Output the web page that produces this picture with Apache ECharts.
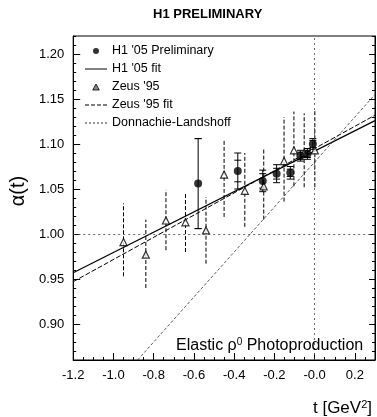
<!DOCTYPE html>
<html>
<head>
<meta charset="utf-8">
<script src="https://cdn.jsdelivr.net/npm/echarts@6/dist/echarts.min.js"></script>
<style>
html,body{margin:0;padding:0;background:#fff;}
#chart{width:377px;height:417px;}
</style>
</head>
<body>
<div id="chart"></div>
<script>
// ---- data ----
const xTickValues = [-1.2, -1.0, -0.8, -0.6, -0.4, -0.2, 0, 0.2];
const yTickValues = [0.90, 0.95, 1.00, 1.05, 1.10, 1.15, 1.20];

const h1T       = [-0.579, -0.382, -0.258, -0.189, -0.121, -0.071, -0.036, -0.009];
const h1Alpha   = [1.056, 1.070, 1.059, 1.067, 1.068, 1.087, 1.089, 1.100];
const h1ErrTot  = [0.050, 0.020, 0.012, 0.010, 0.007, 0.006, 0.006, 0.006];
const h1ErrStat = [0.050, 0.012, 0.008, 0.006, 0.004, 0.004, 0.004, 0.004];

const zeusT     = [-0.950, -0.839, -0.739, -0.642, -0.540, -0.450, -0.347, -0.253, -0.152, -0.103, -0.052, 0.001];
const zeusAlpha = [0.991, 0.977, 1.015, 1.013, 1.004, 1.066, 1.048, 1.053, 1.081, 1.093, 1.090, 1.093];
const zeusLow   = [0.953, 0.940, 0.982, 0.980, 0.967, 1.019, 1.008, 1.016, 1.036, 1.053, 1.052, 1.052];
const zeusHigh  = [1.034, 1.016, 1.049, 1.045, 1.041, 1.104, 1.090, 1.094, 1.130, 1.136, 1.134, 1.137];

const fitT         = [-1.2, 0.3];
const h1FitAlpha   = [0.957, 1.126];
const zeusFitAlpha = [0.947, 1.132];
const dlT          = [-0.88, 0.3];
const dlAlpha      = [0.86, 1.155];

const refAlpha = 1.0;
const refT = 0;

// ---- build ----
const zip = (a, b) => a.map((v, i) => [v, b[i]]);
const h1ErrData = h1T.map((t, i) => [t, h1Alpha[i] - h1ErrTot[i], h1Alpha[i] + h1ErrTot[i],
                                      h1Alpha[i] - h1ErrStat[i], h1Alpha[i] + h1ErrStat[i]]);
const zeusErrData = zeusT.map((t, i) => [t, zeusLow[i], zeusHigh[i]]);

function errRenderer(dashed, withCaps) {
  return function (params, api) {
    const t = api.value(0);
    const a = api.coord([t, api.value(1)]);
    const b = api.coord([t, api.value(2)]);
    const children = [{
      type: 'line',
      shape: {x1: a[0], y1: a[1], x2: b[0], y2: b[1]},
      style: {stroke: '#000', lineWidth: 1, lineDash: dashed ? [4, 2] : null}
    }];
    if (withCaps) {
      const vals = [api.value(1), api.value(2), api.value(3), api.value(4)];
      vals.forEach(v => {
        const p = api.coord([t, v]);
        children.push({
          type: 'line',
          shape: {x1: p[0] - 3.5, y1: p[1], x2: p[0] + 3.5, y2: p[1]},
          style: {stroke: '#000', lineWidth: 1}
        });
      });
    }
    return {type: 'group', children};
  };
}

const font = 'Liberation Sans, Arial, Helvetica, sans-serif';
const chart = echarts.init(document.getElementById('chart'), null, {renderer: 'canvas'});

const axisBase = {
  type: 'value',
  splitLine: {show: false},
  axisLine: {show: true, onZero: false, lineStyle: {color: '#000', width: 1}}
};
const hiddenLine = {show: false, onZero: false};

const iconSolid    = 'path://M0,0h22v1h-22z';
const iconDashed   = 'path://M0,0h4v1h-4zM6,0h4v1h-4zM12,0h4v1h-4zM18,0h4v1h-4z';
const iconDotted   = 'path://M0,0h2v1h-2zM4,0h2v1h-2zM8,0h2v1h-2zM12,0h2v1h-2zM16,0h2v1h-2zM20,0h2v1h-2z';
const iconTriangle = 'path://M3,0L6,5.5L0,5.5Z';

chart.setOption({
  animation: false,
  backgroundColor: '#fff',
  textStyle: {fontFamily: font, color: '#000'},
  title: {
    text: 'H1 PRELIMINARY', left: 148, top: 3,
    textStyle: {fontSize: 13, fontWeight: 'bold', color: '#000', fontFamily: font}
  },
  grid: {left: 66, right: 2, top: 36, bottom: 57, show: true, borderColor: '#000', borderWidth: 1},
  legend: {
    orient: 'vertical', left: 80, top: 39,
    itemWidth: 22, itemHeight: 6, itemGap: 4,
    symbolKeepAspect: true,
    textStyle: {fontSize: 12.5, lineHeight: 14, color: '#000', fontFamily: font},
    data: [
      {name: "H1 '05 Preliminary", icon: 'circle'},
      {name: "H1 '05 fit", icon: iconSolid, itemStyle: {color: '#000'}},
      {name: "Zeus '95", icon: iconTriangle, itemStyle: {color: '#666', borderColor: '#000', borderWidth: 1}},
      {name: "Zeus '95 fit", icon: iconDashed, itemStyle: {color: '#000'}},
      {name: 'Donnachie-Landshoff', icon: iconDotted, itemStyle: {color: '#333'}}
    ]
  },
  xAxis: [
    Object.assign({}, axisBase, {
      min: -1.2, max: 0.3, position: 'bottom',
      axisTick: {show: true, inside: true, length: 7, customValues: xTickValues, lineStyle: {color: '#000'}},
      axisLabel: {
        customValues: xTickValues, fontSize: 13, color: '#000', margin: 9, fontFamily: font,
        formatter: v => (Math.abs(v) < 1e-9 ? '-0.0' : v.toFixed(1))
      },
      name: 't [GeV{sup|2}]', nameLocation: 'end', nameGap: -3,
      nameTextStyle: {
        fontSize: 17, color: '#000', fontFamily: font, align: 'right', verticalAlign: 'top',
        padding: [39, 0, 0, 0],
        rich: {sup: {fontSize: 11, verticalAlign: 'top', padding: [0, 0, 8, 0], fontFamily: font, color: '#000'}}
      }
    }),
    Object.assign({}, axisBase, {
      min: -1.2, max: 0.3, interval: 0.05, position: 'bottom',
      axisLine: hiddenLine,
      axisTick: {show: true, inside: true, length: 3, lineStyle: {color: '#000'}},
      axisLabel: {show: false}
    })
  ],
  yAxis: [
    Object.assign({}, axisBase, {
      min: 0.86, max: 1.22, position: 'left',
      axisTick: {show: true, inside: true, length: 7, customValues: yTickValues, lineStyle: {color: '#000'}},
      axisLabel: {customValues: yTickValues, fontSize: 13, color: '#000', margin: 9, fontFamily: font,
                  formatter: v => v.toFixed(2)},
      name: 'α(t)', nameLocation: 'middle', nameGap: 44, nameRotate: 90,
      nameTextStyle: {fontSize: 20, color: '#000', fontFamily: font, padding: [0, 0, 0, 14]}
    }),
    Object.assign({}, axisBase, {
      min: 0.86, max: 1.22, interval: 0.01, position: 'left',
      axisLine: hiddenLine,
      axisTick: {show: true, inside: true, length: 3, lineStyle: {color: '#000'}},
      axisLabel: {show: false}
    }),
    Object.assign({}, axisBase, {
      min: 0.86, max: 1.22, position: 'right',
      axisTick: {show: true, inside: true, length: 6, customValues: yTickValues, lineStyle: {color: '#000'}},
      axisLabel: {show: false}
    }),
    Object.assign({}, axisBase, {
      min: 0.86, max: 1.22, interval: 0.01, position: 'right',
      axisLine: hiddenLine,
      axisTick: {show: true, inside: true, length: 3, lineStyle: {color: '#000'}},
      axisLabel: {show: false}
    })
  ],
  series: [
    {
      name: "H1 '05 fit", type: 'line', data: zip(fitT, h1FitAlpha),
      symbol: 'none', lineStyle: {color: '#000', width: 1.2}, itemStyle: {color: '#000'}, z: 2,
      markLine: {
        silent: true, symbol: 'none', label: {show: false},
        lineStyle: {color: '#444', width: 0.8, type: [2, 3]},
        data: [{yAxis: refAlpha}, {xAxis: refT}]
      }
    },
    {
      name: "Zeus '95 fit", type: 'line', data: zip(fitT, zeusFitAlpha),
      symbol: 'none', lineStyle: {color: '#000', width: 1, type: [5, 2]}, itemStyle: {color: '#000'}, z: 2
    },
    {
      name: 'Donnachie-Landshoff', type: 'line', data: zip(dlT, dlAlpha),
      symbol: 'none', lineStyle: {color: '#333', width: 0.8, type: [3, 2]}, itemStyle: {color: '#333'}, z: 2
    },
    {
      name: 'zeusErr', type: 'custom', renderItem: errRenderer(true, false),
      data: zeusErrData, encode: {x: 0, y: [1, 2]}, z: 3, silent: true
    },
    {
      name: 'h1Err', type: 'custom', renderItem: errRenderer(false, true),
      data: h1ErrData, encode: {x: 0, y: [1, 2]}, z: 3, silent: true
    },
    {
      name: "Zeus '95", type: 'scatter', data: zip(zeusT, zeusAlpha),
      symbol: 'triangle', symbolSize: 7,
      itemStyle: {color: '#fff', borderColor: '#000', borderWidth: 1.2}, z: 4
    },
    {
      name: "H1 '05 Preliminary", type: 'scatter', data: zip(h1T, h1Alpha),
      symbol: 'circle', symbolSize: 8, itemStyle: {color: '#000'}, z: 5
    }
  ],
  graphic: [{
    type: 'text', left: 176, top: 337, z: 10,
    style: {
      text: 'Elastic ρ{sup|0} Photoproduction',
      fontSize: 16, fontFamily: font, fill: '#000',
      rich: {sup: {fontSize: 10, verticalAlign: 'top', padding: [0, 0, 8, 0], fontFamily: font, fill: '#000'}}
    }
  }]
});
</script>
</body>
</html>
